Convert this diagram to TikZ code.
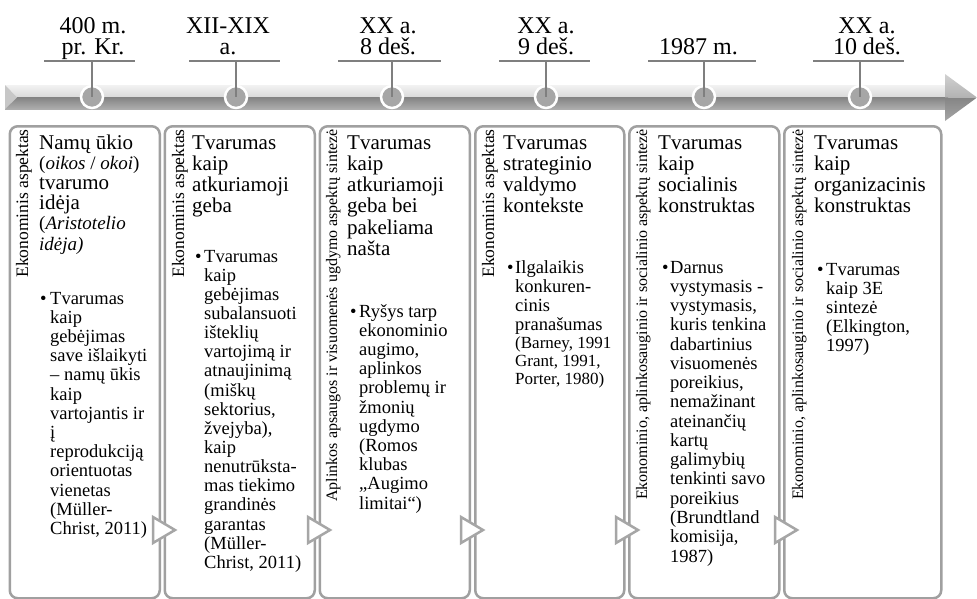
\documentclass[tikz,border=0pt]{standalone}
\usepackage{fontspec}
\setmainfont{Liberation Serif}
\definecolor{boxgray}{HTML}{A0A0A0}
\definecolor{trigray}{HTML}{A6A6A6}
\definecolor{stemgray}{HTML}{7F7F7F}
\definecolor{dotgray}{HTML}{A6A6A6}
\newcommand\blk[2]{\vtop{\baselineskip=#1pt\lineskiplimit=-100pt\lineskip=0pt #2}}
\newcommand\rowt[1]{\hbox{#1}}
\newcommand\crow[1]{\hbox to 0pt{\hss#1\hss}}
\newcommand\smf{\fontsize{19}{19}\selectfont}
\newcommand\citef{\fontsize{17}{17}\selectfont}
\tikzset{
  boxst/.style={draw=boxgray, line width=2.5pt, rounded corners=8pt, fill=white, inner sep=0pt, anchor=north west},
  vtbig/.style={rotate=90, anchor=base east, inner sep=0pt, font=\fontsize{17.5}{17.5}\selectfont},
  vtsmall/.style={rotate=90, anchor=base east, inner sep=0pt, font=\fontsize{16}{16}\selectfont},
  hd/.style={anchor=base west, inner sep=0pt, font=\fontsize{21}{21}\selectfont},
  bl/.style={anchor=base west, inner sep=0pt, font=\fontsize{18.5}{18.5}\selectfont},
  lab/.style={anchor=base, inner sep=0pt, font=\fontsize{24}{24}\selectfont},
  tri/.style={draw=trigray, line width=2.5pt, fill=white, line join=miter},
  dot/.style={circle, minimum size=22pt, inner sep=0pt, fill=dotgray, draw=white, line width=2.5pt},
  stem/.style={draw=stemgray, line width=2pt},
}
\begin{document}
\begin{tikzpicture}[x=1pt,y=-1pt]
\useasboundingbox (0,0) rectangle (977,598);
% ---- timeline bar ----
\shade[top color=white!95!black, bottom color=white!85!black] (5,85) rectangle (948,97.5);
\shade[top color=black!48, bottom color=black!32] (5,97.5) rectangle (948,109);
\fill[black!22] (5,85) -- (17,97.5) -- (5,109) -- cycle;
\shade[top color=black!18, bottom color=black!30] (945,74) -- (977,97.5) -- (945,97.5) -- cycle;
\shade[top color=black!48, bottom color=black!35] (945,97.5) -- (977,97.5) -- (945,121) -- cycle;
% ---- dots ----
\node[dot] (c1) at (92,97) {};
\node[dot] (c2) at (236,97) {};
\node[dot] (c3) at (392,97) {};
\node[dot] (c4) at (546,97) {};
\node[dot] (c5) at (704,97) {};
\node[dot] (c6) at (860,97) {};
% ---- underlines and stems ----
\coordinate (u1l) at (44,61);  \coordinate (u1r) at (135,61);
\coordinate (u2l) at (189,61); \coordinate (u2r) at (280,61);
\coordinate (u3l) at (338,61); \coordinate (u3r) at (441,61);
\coordinate (u4l) at (499,61); \coordinate (u4r) at (590,61);
\coordinate (u5l) at (648,61); \coordinate (u5r) at (756,61);
\coordinate (u6l) at (813,61); \coordinate (u6r) at (904,61);
\foreach \i in {1,...,6}{
  \draw[stem] (u\i l) -- (u\i r);
  \draw[stem] (c\i |- u\i l) -- (c\i.center);
}
% ---- labels ----
\node[lab] (l1) at (93,33) {\blk{21.5}{\crow{400 m.}\crow{pr. Kr.}}};
\node[lab] (l2) at (228,33) {\blk{21.5}{\crow{XII-XIX}\crow{a.}}};
\node[lab] (l3) at (388,33) {\blk{21.5}{\crow{XX a.}\crow{8 deš.}}};
\node[lab] (l4) at (546,33) {\blk{21.5}{\crow{XX a.}\crow{9 deš.}}};
\node[lab] (l5) at (698.5,54) {1987 m.};
\node[lab] (l6) at (867,33) {\blk{21.5}{\crow{XX a.}\crow{10 deš.}}};
% ---- boxes ----
\node[boxst, minimum width=150pt, minimum height=472pt] (B1) at (8.5,125) {};
\node[boxst, minimum width=150pt, minimum height=472pt] (B2) at (163.5,125) {};
\node[boxst, minimum width=150pt, minimum height=472pt] (B3) at (318.5,125) {};
\node[boxst, minimum width=149pt, minimum height=472pt] (B4) at (474,125) {};
\node[boxst, minimum width=150pt, minimum height=472pt] (B5) at (628,125) {};
\node[boxst, minimum width=157pt, minimum height=472pt] (B6) at (783,125) {};
% ---- triangles between boxes ----
\draw[tri] (153,517) -- (175,530) -- (153,543) -- cycle;
\draw[tri] (308,517) -- (330,530) -- (308,543) -- cycle;
\draw[tri] (461,517) -- (483,530) -- (461,543) -- cycle;
\draw[tri] (616,517) -- (638,530) -- (616,543) -- cycle;
\draw[tri] (775,517) -- (797,530) -- (775,543) -- cycle;
% ---- vertical texts ----
\node[vtbig] (v1) at (28,129) {Ekonominis aspektas};
\node[vtbig] (v2) at (184,129) {Ekonominis aspektas};
\node[vtsmall] (v3) at (337,129) {Aplinkos apsaugos ir visuomenės ugdymo aspektų sintezė};
\node[vtbig] (v4) at (494,129) {Ekonominis aspektas};
\node[vtsmall] (v5) at (647,129) {Ekonominio, aplinkosauginio ir socialinio aspektų sintezė};
\node[vtsmall] (v6) at (803,129) {Ekonominio, aplinkosauginio ir socialinio aspektų sintezė};
% ---- headings ----
\node[hd] (h1) at (39,149) {\blk{20.2}{\rowt{Namų ūkio}\rowt{\smf(\textit{oikos} / \textit{okoi})}\rowt{tvarumo}\rowt{idėja}\rowt{\smf(\textit{Aristotelio}}\rowt{\smf\textit{idėja)}}}};
\node[hd] (h2) at (192,149) {\blk{21.3}{\rowt{Tvarumas}\rowt{kaip}\rowt{atkuriamoji}\rowt{geba}}};
\node[hd] (h3) at (347,149) {\blk{21.3}{\rowt{Tvarumas}\rowt{kaip}\rowt{atkuriamoji}\rowt{geba bei}\rowt{pakeliama}\rowt{našta}}};
\node[hd] (h4) at (503,149) {\blk{21.3}{\rowt{Tvarumas}\rowt{strateginio}\rowt{valdymo}\rowt{kontekste}}};
\node[hd] (h5) at (658,149) {\blk{21.3}{\rowt{Tvarumas}\rowt{kaip}\rowt{socialinis}\rowt{konstruktas}}};
\node[hd] (h6) at (814,149) {\blk{21.3}{\rowt{Tvarumas}\rowt{kaip}\rowt{organizacinis}\rowt{konstruktas}}};
% ---- bullets ----
\node[bl] (p1) at (40,304) {•};
\node[bl] (t1) at (50,304) {\blk{19.2}{\rowt{Tvarumas}\rowt{kaip}\rowt{gebėjimas}\rowt{save išlaikyti}\rowt{– namų ūkis}\rowt{kaip}\rowt{vartojantis ir}\rowt{į}\rowt{reprodukciją}\rowt{orientuotas}\rowt{vienetas}\rowt{(Müller-}\rowt{Christ, 2011)}}};
\node[bl] (p2) at (195,262) {•};
\node[bl] (t2) at (204,262) {\blk{19.15}{\rowt{Tvarumas}\rowt{kaip}\rowt{gebėjimas}\rowt{subalansuoti}\rowt{išteklių}\rowt{vartojimą ir}\rowt{atnaujinimą}\rowt{(miškų}\rowt{sektorius,}\rowt{žvejyba),}\rowt{kaip}\rowt{nenutrūksta-}\rowt{mas tiekimo}\rowt{grandinės}\rowt{garantas}\rowt{(Müller-}\rowt{Christ, 2011)}}};
\node[bl] (p3) at (350,317) {•};
\node[bl] (t3) at (359,317) {\blk{19.2}{\rowt{Ryšys tarp}\rowt{ekonominio}\rowt{augimo,}\rowt{aplinkos}\rowt{problemų ir}\rowt{žmonių}\rowt{ugdymo}\rowt{(Romos}\rowt{klubas}\rowt{„Augimo}\rowt{limitai“)}}};
\node[bl] (p4) at (507,273) {•};
\node[bl] (t4) at (515,273) {\blk{19.2}{\rowt{Ilgalaikis}\rowt{konkuren-}\rowt{cinis}\rowt{pranašumas}\vskip-1.2pt\rowt{\citef(Barney, 1991}\vskip-1.2pt\rowt{\citef Grant, 1991,}\vskip-1.2pt\rowt{\citef Porter, 1980)}}};
\node[bl] (p5) at (662,273) {•};
\node[bl] (t5) at (670,273) {\blk{19.27}{\rowt{Darnus}\rowt{vystymasis -}\rowt{vystymasis,}\rowt{kuris tenkina}\rowt{dabartinius}\rowt{visuomenės}\rowt{poreikius,}\rowt{nemažinant}\rowt{ateinančių}\rowt{kartų}\rowt{galimybių}\rowt{tenkinti savo}\rowt{poreikius}\rowt{(Brundtland}\rowt{komisija,}\rowt{1987)}}};
\node[bl] (p6) at (817,275) {•};
\node[bl] (t6) at (826,275) {\blk{19}{\rowt{Tvarumas}\rowt{kaip 3E}\rowt{sintezė}\rowt{(Elkington,}\rowt{1997)}}};
\end{tikzpicture}
\end{document}
